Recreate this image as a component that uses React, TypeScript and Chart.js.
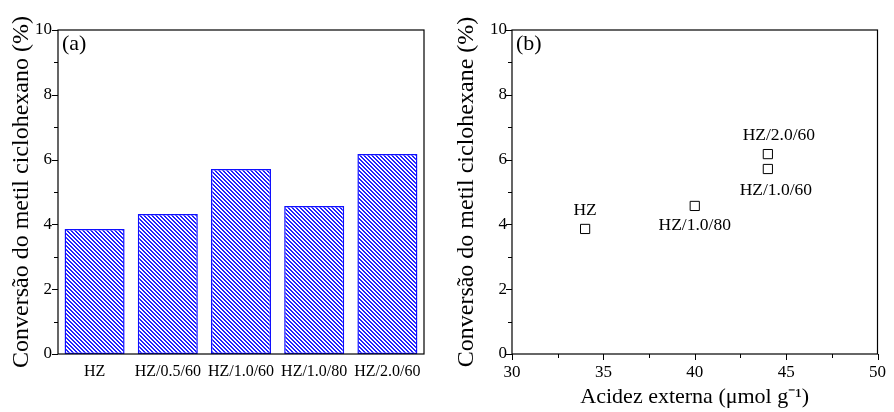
import React, { useEffect, useRef } from 'react';
import { Chart, registerables } from 'chart.js';
Chart.register(...registerables);

// ---- data ----
const categories = ['HZ', 'HZ/0.5/60', 'HZ/1.0/60', 'HZ/1.0/80', 'HZ/2.0/60'];
const conversion = [3.86, 4.32, 5.71, 4.57, 6.17];

const pointLabels = ['HZ', 'HZ/1.0/80', 'HZ/1.0/60', 'HZ/2.0/60'];
const externalAcidity = [34, 40, 44, 44];
const pointConversion = [3.86, 4.57, 5.71, 6.17];

const FONT = "'Liberation Serif', 'Times New Roman', serif";

function makeHatch(): CanvasPattern | string {
  const c = document.createElement('canvas');
  c.width = 4;
  c.height = 4;
  const g = c.getContext('2d');
  if (!g) return '#6666ff';
  g.fillStyle = '#ffffff';
  g.fillRect(0, 0, 4, 4);
  g.fillStyle = '#2222ff';
  for (let i = 0; i < 4; i++) {
    g.fillRect(i, i, 1, 1);
    g.fillRect((i + 1) % 4, i, 1, 1);
  }
  return g.createPattern(c, 'repeat') || '#6666ff';
}

const framePlugin = {
  id: 'frame',
  afterDraw(chart: any, _args: any, opts: any) {
    const { ctx, chartArea } = chart;
    const { left, right, top, bottom } = chartArea;
    ctx.save();
    ctx.strokeStyle = '#000';
    ctx.lineWidth = 1.2;
    ctx.strokeRect(left, top, right - left, bottom - top);
    ctx.lineWidth = 1;
    const y = chart.scales.y;
    for (let v = y.min; v <= y.max + 1e-9; v += opts.yMinor) {
      const p = Math.round(y.getPixelForValue(v)) + 0.5;
      const major = Math.abs(v / opts.yMajor - Math.round(v / opts.yMajor)) < 1e-6;
      ctx.beginPath();
      ctx.moveTo(left - (major ? 6 : 4), p);
      ctx.lineTo(left, p);
      ctx.stroke();
    }
    if (opts.xMinor) {
      const x = chart.scales.x;
      for (let v = x.min; v <= x.max + 1e-9; v += opts.xMinor) {
        const p = Math.round(x.getPixelForValue(v)) + 0.5;
        const major = Math.abs(v / opts.xMajor - Math.round(v / opts.xMajor)) < 1e-6;
        ctx.beginPath();
        ctx.moveTo(p, bottom);
        ctx.lineTo(p, bottom + (major ? 6 : 4));
        ctx.stroke();
      }
    }
    ctx.fillStyle = '#000';
    ctx.font = `22px ${FONT}`;
    ctx.textAlign = 'left';
    ctx.textBaseline = 'top';
    ctx.fillText(opts.panel, left + 4, top + 3);
    ctx.restore();
  },
};

const labelPlugin = {
  id: 'pointLabelsText',
  afterDatasetsDraw(chart: any, _args: any, opts: any) {
    if (!opts || !opts.labels) return;
    const { ctx } = chart;
    const meta = chart.getDatasetMeta(0);
    ctx.save();
    ctx.fillStyle = '#000';
    ctx.font = `17.5px ${FONT}`;
    ctx.textAlign = 'center';
    ctx.textBaseline = 'middle';
    meta.data.forEach((pt: any, i: number) => {
      const [dx, dy] = opts.offsets[i];
      ctx.fillText(opts.labels[i], pt.x + dx, pt.y + dy);
    });
    ctx.restore();
  },
};

export default function App() {
  const leftRef = useRef<HTMLCanvasElement>(null);
  const rightRef = useRef<HTMLCanvasElement>(null);

  useEffect(() => {
    if (!leftRef.current || !rightRef.current) return;
    const hatch = makeHatch();

    const left = new Chart(leftRef.current, {
      type: 'bar',
      data: {
        labels: categories,
        datasets: [
          {
            data: conversion,
            backgroundColor: hatch as any,
            borderColor: '#1010ff',
            borderWidth: 1.5,
            borderSkipped: false,
            barPercentage: 0.82,
            categoryPercentage: 1,
          },
        ],
      },
      options: {
        responsive: false,
        animation: false,
        layout: { padding: { top: 30, right: 23, left: 0, bottom: 0 } },
        plugins: {
          legend: { display: false },
          tooltip: { enabled: false },
          frame: { yMinor: 1, yMajor: 2, panel: '(a)' },
        } as any,
        scales: {
          x: {
            grid: { display: false, drawTicks: false },
            border: { display: false },
            ticks: { color: '#000', font: { family: FONT, size: 16 }, padding: 8, maxRotation: 0, autoSkip: false },
            afterFit: (s: any) => { s.height = 58; },
          },
          y: {
            min: 0,
            max: 10,
            grid: { display: false, drawTicks: false },
            border: { display: false },
            ticks: { stepSize: 2, color: '#000', font: { family: FONT, size: 17 }, padding: 6 },
            title: {
              display: true,
              text: 'Conversão do metil ciclohexano (%)',
              color: '#000',
              font: { family: FONT, size: 24 },
              padding: { top: 7, bottom: 0 },
            },
            afterFit: (s: any) => { s.width = 58; },
          },
        },
      },
      plugins: [framePlugin],
    });

    const right = new Chart(rightRef.current, {
      type: 'scatter',
      data: {
        datasets: [
          {
            data: externalAcidity.map((x, i) => ({ x, y: pointConversion[i] })),
            pointStyle: 'rect',
            pointRadius: 6.5,
            pointBackgroundColor: 'rgba(255,255,255,0)',
            pointBorderColor: '#000',
            pointBorderWidth: 1,
            showLine: false,
          },
        ],
      },
      options: {
        responsive: false,
        animation: false,
        layout: { padding: { top: 30, right: 11, left: 0, bottom: 0 } },
        plugins: {
          legend: { display: false },
          tooltip: { enabled: false },
          frame: { yMinor: 1, yMajor: 2, xMinor: 2.5, xMajor: 5, panel: '(b)' },
          pointLabelsText: {
            labels: pointLabels,
            offsets: [[0, -19], [0, 19], [8, 21], [11, -19]],
          },
        } as any,
        scales: {
          x: {
            type: 'linear',
            min: 30,
            max: 50,
            grid: { display: false, drawTicks: false },
            border: { display: false },
            ticks: { stepSize: 5, color: '#000', font: { family: FONT, size: 17 }, padding: 8 },
            title: {
              display: true,
              text: 'Acidez externa (μmol g⁻¹)',
              color: '#000',
              font: { family: FONT, size: 22 },
              padding: { top: 0, bottom: 2 },
            },
            afterFit: (s: any) => { s.height = 58; },
          },
          y: {
            min: 0,
            max: 10,
            grid: { display: false, drawTicks: false },
            border: { display: false },
            ticks: { stepSize: 2, color: '#000', font: { family: FONT, size: 17 }, padding: 5 },
            title: {
              display: true,
              text: 'Conversão do metil ciclohexane (%)',
              color: '#000',
              font: { family: FONT, size: 24 },
              padding: { top: 5, bottom: 0 },
            },
            afterFit: (s: any) => { s.width = 65; },
          },
        },
      },
      plugins: [framePlugin, labelPlugin],
    });

    return () => {
      left.destroy();
      right.destroy();
    };
  }, []);

  return (
    <div style={{ position: 'absolute', left: 0, top: 0, width: 894, height: 412, background: '#fff' }}>
      <canvas ref={leftRef} width={447} height={412} style={{ position: 'absolute', left: 0, top: 0, width: 447, height: 412 }} />
      <canvas ref={rightRef} width={447} height={412} style={{ position: 'absolute', left: 447, top: 0, width: 447, height: 412 }} />
    </div>
  );
}
